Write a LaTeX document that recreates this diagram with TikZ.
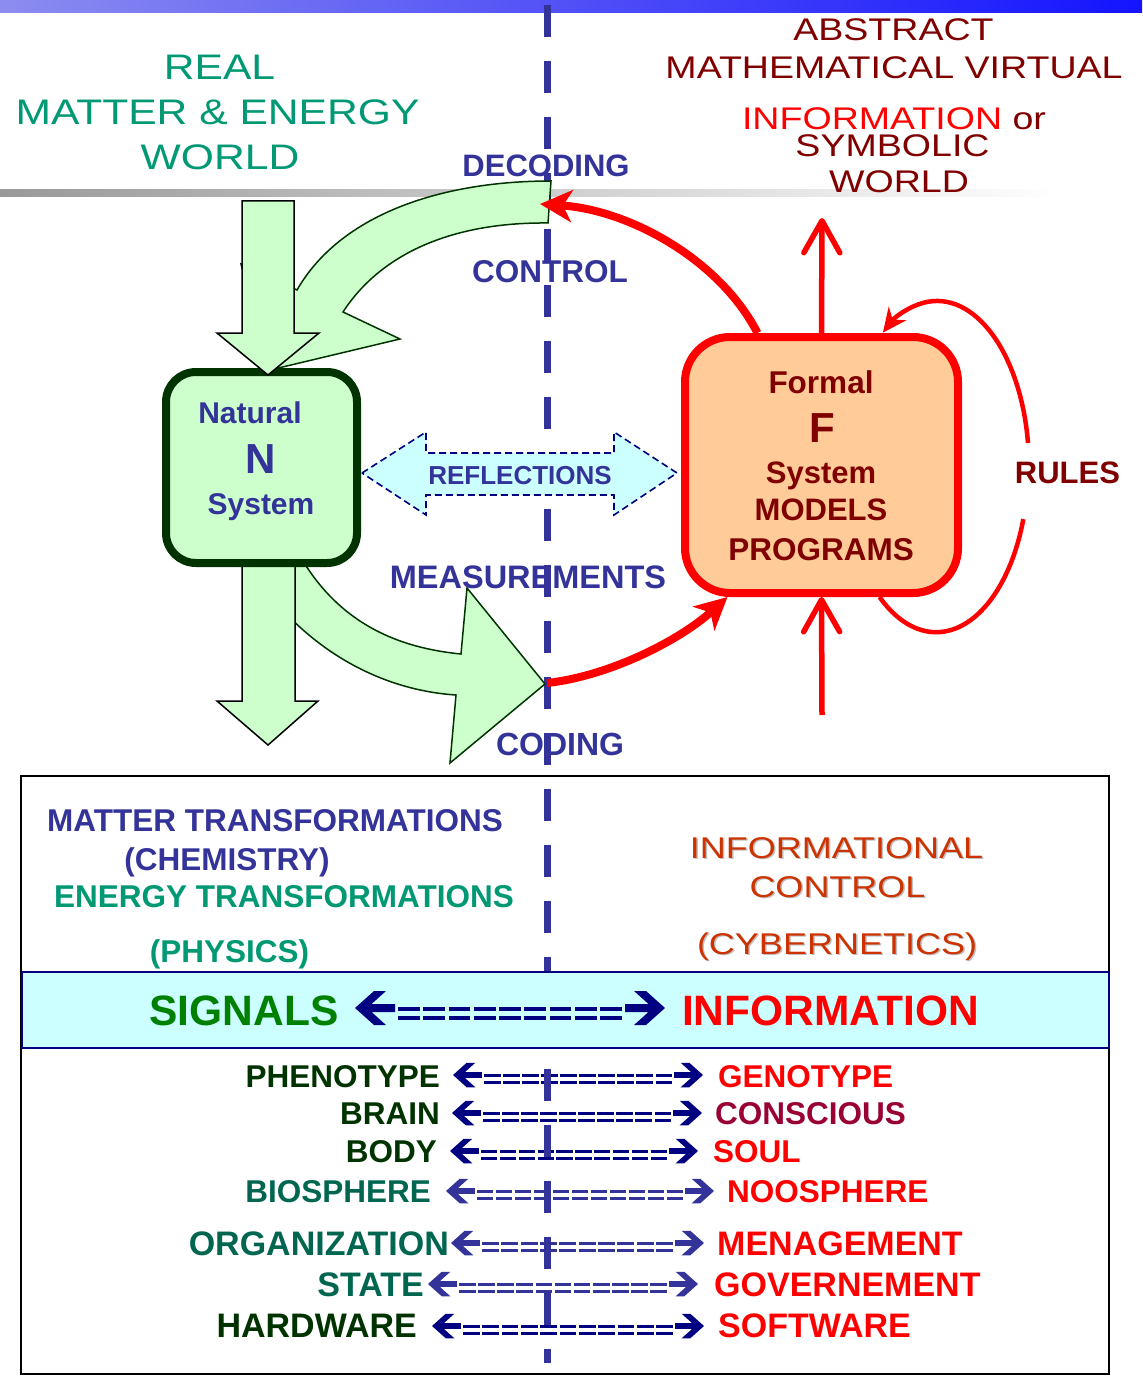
\documentclass[tikz,border=0pt]{standalone}
\usepackage{fontspec}
\setmainfont{Liberation Sans}
\newfontfamily\gothic[FakeStretch=1.2]{Liberation Sans}
\usetikzlibrary{arrows.meta,calc}
\definecolor{vio}{RGB}{51,51,153}
\definecolor{navy}{RGB}{0,0,128}
\definecolor{teal1}{RGB}{0,153,115}
\definecolor{teal2}{RGB}{0,102,80}
\definecolor{dgreen}{RGB}{0,51,0}
\definecolor{sgreen}{RGB}{0,128,0}
\definecolor{dred}{RGB}{128,0,0}
\definecolor{wine}{RGB}{153,0,51}
\definecolor{rust}{RGB}{204,51,0}
\definecolor{gfill}{RGB}{204,255,204}
\definecolor{ofill}{RGB}{255,204,153}
\definecolor{cfill}{RGB}{204,255,255}
\definecolor{barL}{RGB}{140,140,240}
\definecolor{barR}{RGB}{20,20,255}
\newcommand{\fsz}[1]{\fontsize{#1}{#1}\selectfont}
% double arrow "<=====>" : left tip x, right tip x, y, scale, colour, number of dashes
\newcommand{\DblArrow}[6]{%
  \fill[#5,shift={(#1,#3)},scale=#4] (0,0) -- (19,-17) -- (31,-17) -- (16.5,-4) -- (40,-4) -- (40,4) -- (16.5,4) -- (31,17) -- (19,17) -- cycle;
  \fill[#5,shift={(#2,#3)},xscale=-#4,yscale=#4] (0,0) -- (19,-17) -- (31,-17) -- (16.5,-4) -- (40,-4) -- (40,4) -- (16.5,4) -- (31,17) -- (19,17) -- cycle;
  \pgfmathsetmacro\dbxa{#1+43*#4}%
  \pgfmathsetmacro\dbxb{#2-43*#4}%
  \pgfmathsetmacro\dbgap{3.5*#4}%
  \pgfmathsetmacro\dblen{(\dbxb-\dbxa-(#6-1)*\dbgap)/#6}%
  \foreach \k in {1,...,#6}{%
    \pgfmathsetmacro\dbx{\dbxa+(\k-1)*(\dblen+\dbgap)}%
    \fill[#5] (\dbx,#3-1*#4) rectangle ++(\dblen,4*#4);
    \fill[#5] (\dbx,#3+8*#4) rectangle ++(\dblen,4*#4);
  }}
\begin{document}
\begin{tikzpicture}[x=1pt,y=-1pt,
  lbl/.style={inner sep=0pt, anchor=base},
  blbl/.style={lbl, font=\bfseries\fsz{31}},
  glbl/.style={lbl, font=\gothic\fsz{#1}},
  garrow/.style={fill=gfill, draw=dgreen, line width=1.5pt, line join=miter},
  sarrow/.style={fill=gfill, draw=black, line width=1.5pt},
  redthick/.style={draw=red, line width=8pt, -{Stealth[length=32pt,width=32pt,inset=9pt]}},
  redup/.style={draw=red, line width=5.5pt, -{Straight Barb[length=32pt,width=36pt,round]}},
  redloop/.style={draw=red, line width=4.5pt},
  vline/.style={draw=vio, line width=7pt, dash pattern=on 32pt off 24pt},
  rowL/.style={lbl, anchor=base east, font=\bfseries\fsz{#1}},
  rowR/.style={lbl, anchor=base west, font=\bfseries\fsz{#1}},
  shadowtxt/.style={lbl, font=\gothic\fsz{30}, text=black!25}
]
\useasboundingbox (0,0) rectangle (1142,1380);

% header band and separator
\shade[left color=barL, right color=barR] (0,0) rectangle (1142,13);
\shade[left color=black!40, right color=white] (0,190) rectangle (1060,197);

% lower frame
\draw[line width=2.5pt] (21,776) rectangle (1109,1374);

% correspondence rows
\node[rowL=31.5, text=dgreen] (phe) at (440,1087) {PHENOTYPE};
\node[rowR=31.5, text=red] (gen) at (718,1087) {GENOTYPE};
\DblArrow{453}{703}{1075}{0.72}{navy}{10}
\node[rowL=31.5, text=dgreen] (bra) at (440,1124) {BRAIN};
\node[rowR=31.5, text=wine] (con) at (715,1124) {CONSCIOUS};
\DblArrow{452}{702}{1113}{0.72}{navy}{10}
\node[rowL=31.5, text=dgreen] (bod) at (437,1162) {BODY};
\node[rowR=31.5, text=red] (sou) at (713,1162) {SOUL};
\DblArrow{450}{698}{1151}{0.72}{navy}{10}
\node[rowL=31.5, text=teal2] (bio) at (431,1202) {BIOSPHERE};
\node[rowR=31.5, text=red] (noo) at (727,1202) {NOOSPHERE};
\DblArrow{446}{714}{1191}{0.72}{vio}{11}
\node[rowL=34, text=teal2] (org) at (449,1255) {ORGANIZATION};
\node[rowR=34, text=red] (men) at (717,1255) {MENAGEMENT};
\DblArrow{451}{704}{1243}{0.72}{vio}{10}
\node[rowL=34, text=teal2] (sta) at (424,1296) {STATE};
\node[rowR=34, text=red] (gov) at (714,1296) {GOVERNEMENT};
\DblArrow{428}{698}{1284}{0.72}{vio}{11}
\node[rowL=34, text=dgreen] (har) at (417,1337) {HARDWARE};
\node[rowR=34, text=red] (sof) at (718,1337) {SOFTWARE};
\DblArrow{432}{704}{1326}{0.72}{navy}{11}

% dividing dashed line
\draw[vline] (547,5) -- (547,1363);

% signals / information band
\node[draw=navy, fill=cfill, line width=2pt, minimum width=1087pt, minimum height=76pt, inner sep=0pt] (band) at (565.5,1010) {};
\node[lbl, font=\bfseries\fsz{42.5}, text=sgreen] (sig) at (244,1025) {SIGNALS};
\node[lbl, font=\bfseries\fsz{42.5}, text=red] (inf) at (830.5,1025) {INFORMATION};
\DblArrow{355}{665}{1008}{1}{navy}{9}

% lower-left texts
\node[blbl, font=\bfseries\fsz{31.5}, text=vio] (mt) at (275,831) {MATTER TRANSFORMATIONS};
\node[blbl, font=\bfseries\fsz{31.5}, text=vio] (chem) at (227,870) {(CHEMISTRY)};
\node[blbl, font=\bfseries\fsz{31.5}, text=teal1] (et) at (284,907) {ENERGY TRANSFORMATIONS};
\node[blbl, font=\bfseries\fsz{31.5}, text=teal1] (phys) at (229.5,962) {(PHYSICS)};

% lower-right texts with soft shadow
\node[shadowtxt] (infs) at (838,859.5) {INFORMATIONAL};
\node[shadowtxt] (cons) at (839,898.5) {CONTROL};
\node[shadowtxt] (cybs) at (838.5,955.5) {(CYBERNETICS)};
\node[glbl=30, text=rust] (infl) at (836.5,858) {INFORMATIONAL};
\node[glbl=30, text=rust] (ctl) at (837.5,897) {CONTROL};
\node[glbl=30, text=rust] (cyb) at (837,954) {(CYBERNETICS)};

% titles
\node[glbl=35.5, text=teal1] (t1) at (219.5,80) {REAL};
\node[glbl=35.5, text=teal1] (t2) at (217.5,125) {MATTER \& ENERGY};
\node[glbl=35.5, text=teal1] (t3) at (220,170) {WORLD};
\node[glbl=31.3, text=dred] (r1) at (893.5,41) {ABSTRACT};
\node[glbl=31.3, text=dred] (r2) at (894,79) {MATHEMATICAL VIRTUAL};
\node[glbl=31.3, text=dred] (r3) at (894,130) {\textcolor{red}{INFORMATION} or};
\node[glbl=31.3, text=dred] (r4) at (892.5,157) {SYMBOLIC};
\node[glbl=31.3, text=dred] (r5) at (899,193) {WORLD};

% measurement arrow (behind the natural system)
\filldraw[garrow] (300,556) .. controls (340,625) and (400,648) .. (461,654) -- (467,588) -- (545,684) -- (450,763) -- (456,695) .. controls (380,690) and (310,650) .. (262,585) -- cycle;
\filldraw[sarrow] (242,566) -- (295,566) -- (295,701) -- (318,701) -- (268,745) -- (217,701) -- (242,701) -- cycle;

% natural system
\node[draw=dgreen, fill=gfill, line width=8pt, rounded corners=30pt, minimum width=191pt, minimum height=191pt, inner sep=0pt] (nat) at (261.5,467.5) {};
\node[lbl, font=\bfseries\fsz{30}, text=vio] (nat1) at (250,423) {Natural};
\node[lbl, font=\bfseries\fsz{42}, text=vio] (nat2) at (261,473) {N};
\node[lbl, font=\bfseries\fsz{30}, text=vio] (nat3) at (261,514) {System};

% control arrow and input arrow
\filldraw[garrow] (551,181) .. controls (440,181) and (340,215) .. (297,290) -- (241,264) -- (270,370) -- (400,339) -- (343,312) .. controls (380,255) and (450,222) .. (548,223) -- cycle;
\filldraw[sarrow] (242,201) -- (294,201) -- (294,333) -- (319,333) -- (268,375) -- (217,333) -- (242,333) -- cycle;

% reflections
\filldraw[fill=cfill, draw=navy, line width=1.6pt, dash pattern=on 7pt off 4pt] (362,473) -- (426,432) -- (426,453) -- (614,453) -- (614,432) -- (677,473) -- (614,515) -- (614,495) -- (426,495) -- (426,515) -- cycle;
\node[lbl, font=\bfseries\fsz{26}, text=vio] (refl) at (520,484) {REFLECTIONS};

% formal system
\node[draw=red, fill=ofill, line width=8pt, rounded corners=45pt, minimum width=273pt, minimum height=256pt, inner sep=0pt] (form) at (821.5,465) {};
\node[lbl, font=\bfseries\fsz{31.5}, text=dred] (f1) at (821,393) {Formal};
\node[lbl, font=\bfseries\fsz{42}, text=dred] (f2) at (822,442) {F};
\node[blbl, text=dred] (f3) at (821,483) {System};
\node[blbl, text=dred] (f4) at (821,520) {MODELS};
\node[lbl, font=\bfseries\fsz{31.5}, text=dred] (f5) at (821,560) {PROGRAMS};
\node[blbl, text=dred] (rules) at (1067.5,483) {RULES};

% red connectors
\coordinate (decTip) at (540,204);
\coordinate (codStart) at (547,683);
\coordinate (outTip) at (822,218);
\coordinate (inFoot) at (822,715);
\draw[redthick] ([xshift=-64pt]form.north) .. controls (720,260) and (630,210) .. (decTip);
\draw[redthick] (codStart) .. controls (610,676) and (680,640) .. ([xshift=-94pt]form.south);
\draw[redup] (form.north) -- (outTip);
\draw[redup] (inFoot) -- (form.south);
\draw[redloop] ([xshift=58pt]form.south) arc[start angle=232, end angle=341.4, x radius=92pt, y radius=166pt];
\draw[redloop, -{Stealth[length=24pt,width=22pt]}] (1028,443) arc[start angle=8.3, end angle=126, x radius=92pt, y radius=166pt];

% arrow labels
\node[blbl, text=vio] (dec) at (546,177) {DECODING};
\node[blbl, font=\bfseries\fsz{31.5}, text=vio] (ctrl) at (550,282) {CONTROL};
\node[blbl, font=\bfseries\fsz{32.5}, text=vio] (meas) at (528,588) {MEASUREMENTS};
\node[blbl, font=\bfseries\fsz{32}, text=vio] (cod) at (560,755) {CODING};
\end{tikzpicture}
\end{document}
